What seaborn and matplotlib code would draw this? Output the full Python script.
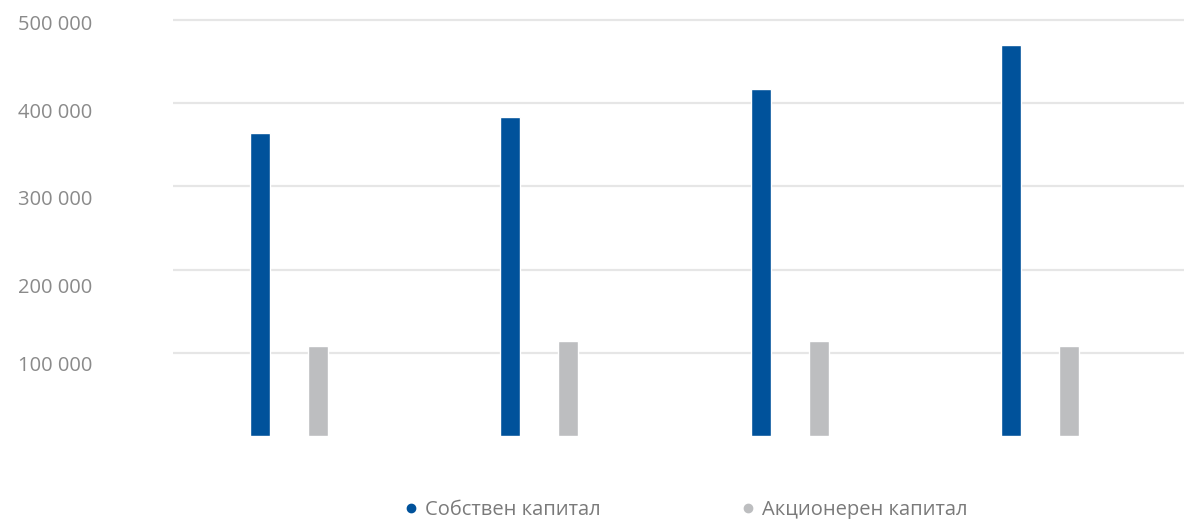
import pandas as pd
import matplotlib.pyplot as plt
import matplotlib.transforms as mtransforms
from matplotlib.lines import Line2D
import seaborn as sns

# данни (отчетени от графиката)
periods = ['2019', '2020', '2021', '2022']
sobstven = [364000, 384000, 417000, 470000]
akcioneren = [108000, 114000, 114000, 108000]
series_names = ['Собствен капитал', 'Акционерен капитал']
yticks = [100000, 200000, 300000, 400000, 500000]
ytick_labels = ['100 000', '200 000', '300 000', '400 000', '500 000']

colors = {'Собствен капитал': '#00529B', 'Акционерен капитал': '#BDBEC0'}

df = pd.DataFrame({
    'period': periods * 2,
    'series': [series_names[0]] * len(periods) + [series_names[1]] * len(periods),
    'value': sobstven + akcioneren,
})

sns.set_style('white')
plt.rcParams['font.family'] = ['Open Sans', 'DejaVu Sans']

fig = plt.figure(figsize=(11.84, 5.19), dpi=100)
W, H = 1184, 519
ax = fig.add_axes([173 / W, (H - 436) / H, (W - 173) / W, (436 - 15) / H])

sns.barplot(data=df, x='period', y='value', hue='series', palette=colors,
            width=0.464, gap=0.655, legend=False, ax=ax, saturation=1)

ax.set_xlim(-0.4634, 3.5756)
ax.set_ylim(0, 500000 * 421 / 416)
ax.set_yticks(yticks)
ax.set_yticklabels(ytick_labels)
ax.set_xticks([])
ax.set_xlabel('')
ax.set_ylabel('')
ax.grid(axis='y', color='#e6e6e6', linewidth=1.6)
ax.set_axisbelow(True)
for s in ax.spines.values():
    s.set_visible(False)
ax.tick_params(axis='y', length=0, labelsize=14.5, labelcolor='#8a8a8a')

# етикетите са леко изместени надолу спрямо линиите
label_dy = [11, 16, 11, 7, 3]
for lab, dy in zip(ax.get_yticklabels(), label_dy):
    lab.set_horizontalalignment('left')
    lab.set_transform(lab.get_transform() +
                      mtransforms.ScaledTranslation(-150 / 100, -dy / 100, fig.dpi_scale_trans))

handles = [Line2D([], [], marker='o', linestyle='none', markersize=6,
                  color=colors[n]) for n in series_names]
fig.legend(handles, series_names, loc='center', ncol=2, frameon=False,
           bbox_to_anchor=(686 / W, (H - 510) / H), fontsize=14.5,
           labelcolor='#7a7a7a', handlelength=0.6, handletextpad=0.4,
           columnspacing=7.0)

fig.savefig('out.png', dpi=100)
